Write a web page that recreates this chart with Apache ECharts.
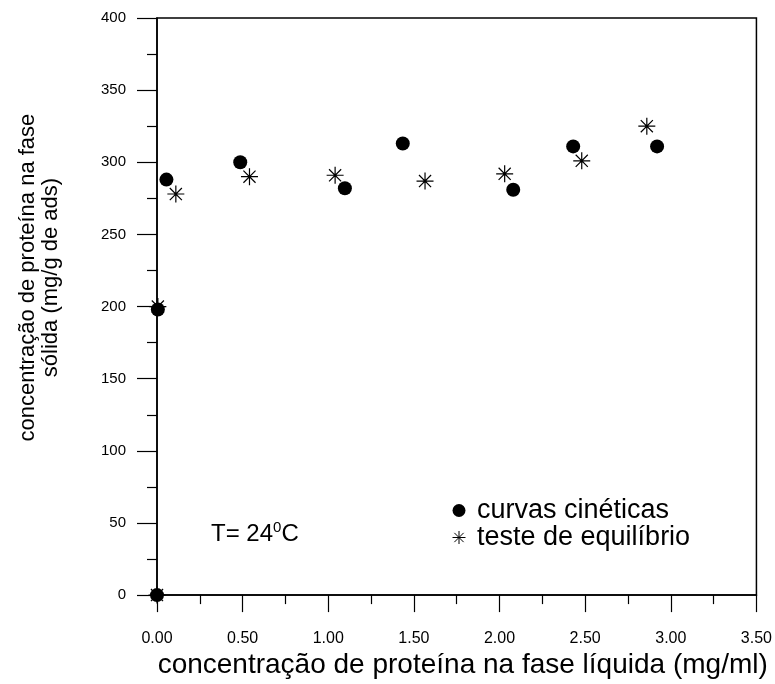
<!DOCTYPE html>
<html>
<head>
<meta charset="utf-8">
<script src="https://cdn.jsdelivr.net/npm/echarts@6/dist/echarts.min.js"></script>
<style>
html,body{margin:0;padding:0;background:#fff;}
#chart{width:775px;height:684px;}
</style>
</head>
<body>
<div id="chart"></div>
<script>
// ---- data ----
var cineticasX = [0.00, 0.005, 0.055, 0.486, 1.097, 1.435, 2.08, 2.43, 2.92];
var cineticasY = [0, 198, 288, 300, 282, 313, 281, 311, 311];
var equilibrioX = [0.00, 0.005, 0.11, 0.54, 1.04, 1.565, 2.03, 2.48, 2.86];
var equilibrioY = [0, 200, 278, 290, 291, 287, 292, 301, 325];
var seriesNames = ['curvas cinéticas', 'teste de equilíbrio'];
var xTitle = 'concentração de proteína na fase líquida (mg/ml)';
var yTitle = 'concentração de proteína na fase\nsólida (mg/g de ads)';
var xRange = [0, 3.5, 0.5];
var yRange = [0, 400, 50];

function pairs(xs, ys) { return xs.map(function (x, i) { return [x, ys[i]]; }); }

var starPath = 'path://M0,-8L0,8M-8,0L8,0M-5.7,-5.7L5.7,5.7M-5.7,5.7L5.7,-5.7';
var FONT = '"Liberation Sans", Arial, sans-serif';

var chart = echarts.init(document.getElementById('chart'), null, {renderer: 'canvas'});
chart.setOption({
  backgroundColor: '#fff',
  animation: false,
  grid: {left: 157, right: 18, top: 18, bottom: 81, show: true, borderColor: '#000', borderWidth: 1.5, backgroundColor: 'transparent'},
  xAxis: {
    type: 'value', min: xRange[0], max: xRange[1], interval: xRange[2],
    name: xTitle, nameLocation: 'middle', nameGap: 49,
    nameTextStyle: {fontFamily: FONT, fontSize: 28, color: '#000', padding: [0, 0, 0, 12]},
    axisLine: {show: true, lineStyle: {color: '#000', width: 1.5}},
    axisTick: {show: true, inside: false, length: 17, lineStyle: {color: '#000', width: 1.2}},
    minorTick: {show: true, splitNumber: 2, length: 9, lineStyle: {color: '#000', width: 1.2}},
    splitLine: {show: false},
    axisLabel: {fontFamily: FONT, fontSize: 16, color: '#000', margin: 35, formatter: function (v) { return v.toFixed(2); }}
  },
  yAxis: {
    type: 'value', min: yRange[0], max: yRange[1], interval: yRange[2],
    name: yTitle, nameLocation: 'middle', nameGap: 95, nameRotate: 90,
    nameTextStyle: {fontFamily: FONT, fontSize: 22, lineHeight: 23, color: '#000', align: 'center', padding: [0, 0, 0, 58]},
    axisLine: {show: true, lineStyle: {color: '#000', width: 1.5}},
    axisTick: {show: true, inside: false, length: 20, lineStyle: {color: '#000', width: 1.2}},
    minorTick: {show: true, splitNumber: 2, length: 10, lineStyle: {color: '#000', width: 1.2}},
    splitLine: {show: false},
    axisLabel: {fontFamily: FONT, fontSize: 15, color: '#000', margin: 31}
  },
  legend: {
    orient: 'vertical', left: 450, top: 497, padding: 0, itemWidth: 26, itemHeight: 13, itemGap: 0,
    textStyle: {fontFamily: FONT, fontSize: 27, lineHeight: 27, color: '#000'},
    data: [
      {name: seriesNames[0], icon: 'circle', itemStyle: {color: '#000'}},
      {name: seriesNames[1], icon: starPath, itemStyle: {color: 'none', borderColor: '#000', borderWidth: 1}}
    ]
  },
  graphic: [{
    type: 'text', left: 211, top: 520,
    style: {
      text: '{a|T= 24}{s|0}{a|C}',
      rich: {
        a: {fontFamily: FONT, fontSize: 24, color: '#000'},
        s: {fontFamily: FONT, fontSize: 15, color: '#000', padding: [0, 0, 14, 0]}
      }
    }
  }],
  series: [
    {
      name: seriesNames[0], type: 'scatter', clip: false, symbol: 'circle', symbolSize: 14,
      itemStyle: {color: '#000', opacity: 1}, data: pairs(cineticasX, cineticasY), z: 3
    },
    {
      name: seriesNames[1], type: 'scatter', clip: false, symbol: starPath, symbolSize: 17,
      itemStyle: {color: 'none', borderColor: '#000', borderWidth: 1.2, opacity: 1}, data: pairs(equilibrioX, equilibrioY), z: 2
    }
  ]
});
</script>
</body>
</html>
